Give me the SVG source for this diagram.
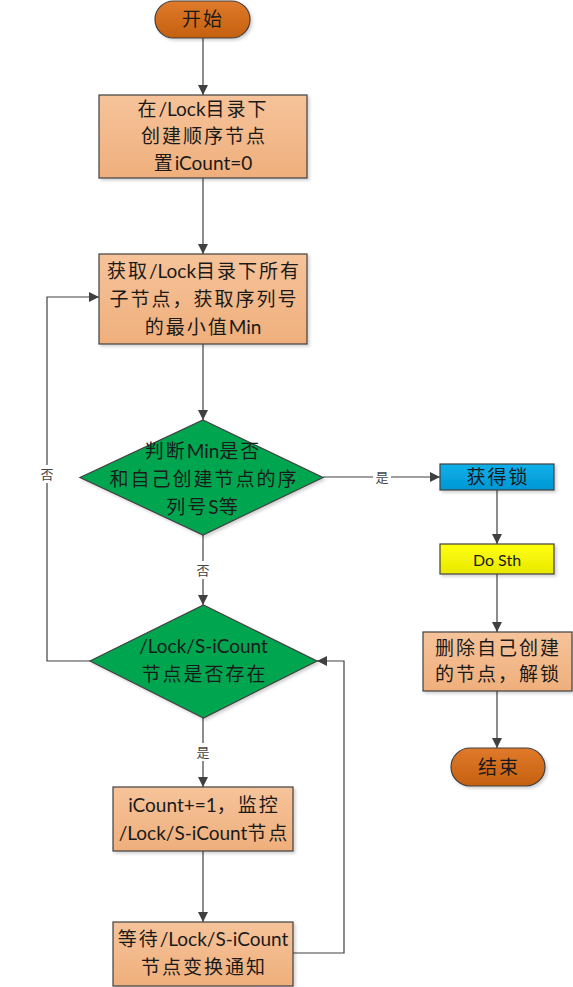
<svg xmlns="http://www.w3.org/2000/svg" width="573" height="987" viewBox="0 0 573 987">
<defs>
<linearGradient id="gOrange" x1="0" y1="0" x2="0" y2="1"><stop offset="0" stop-color="#e07a2c"/><stop offset="1" stop-color="#c5600f"/></linearGradient>
<linearGradient id="gPeach" x1="0" y1="0" x2="0" y2="1"><stop offset="0" stop-color="#f6c39a"/><stop offset="1" stop-color="#efaf7c"/></linearGradient>
<linearGradient id="gBlue" x1="0" y1="0" x2="0" y2="1"><stop offset="0" stop-color="#10b0ea"/><stop offset="1" stop-color="#0097d4"/></linearGradient>
<linearGradient id="gYellow" x1="0" y1="0" x2="0" y2="1"><stop offset="0" stop-color="#ffff10"/><stop offset="1" stop-color="#e8e800"/></linearGradient>
<marker id="arr" viewBox="0 0 10 10" refX="10" refY="5" markerWidth="10" markerHeight="10" markerUnits="userSpaceOnUse" orient="auto"><path d="M0,0 L10,5 L0,10 z" fill="#404040"/></marker>
<filter id="sh" x="-10%" y="-10%" width="130%" height="130%"><feDropShadow dx="2" dy="2" stdDeviation="1.5" flood-color="#000" flood-opacity="0.18"/></filter>
</defs>
<style>
.t{font-family:Lato,"Noto Sans CJK SC",sans-serif;font-size:19px;fill:#1a1a1a;text-anchor:middle}
.c{letter-spacing:2px}
.lbl{font-family:"Noto Sans CJK SC",sans-serif;font-size:13px;fill:#444;text-anchor:middle}
.box{stroke:#404040;stroke-width:1.2;filter:url(#sh)}
.ln{fill:none;stroke:#404040;stroke-width:1.2}
</style>
<g id="connectors">
<path class="ln" d="M203,38 V95" marker-end="url(#arr)"/>
<path class="ln" d="M203,178 V254" marker-end="url(#arr)"/>
<path class="ln" d="M203,344 V420" marker-end="url(#arr)"/>
<path class="ln" d="M323,477 H440" marker-end="url(#arr)"/>
<path class="ln" d="M497,490 V544" marker-end="url(#arr)"/>
<path class="ln" d="M497,574 V632" marker-end="url(#arr)"/>
<path class="ln" d="M497,691 V748" marker-end="url(#arr)"/>
<path class="ln" d="M203,535 V605" marker-end="url(#arr)"/>
<path class="ln" d="M203,718 V787" marker-end="url(#arr)"/>
<path class="ln" d="M203,851 V922" marker-end="url(#arr)"/>
<path class="ln" d="M292,953 H344 V661 H317" marker-end="url(#arr)"/>
<path class="ln" d="M90,661 H47 V297 H99" marker-end="url(#arr)"/>
<rect x="373" y="469" width="18" height="16" fill="#fff"/>
<text class="lbl" x="382" y="482">是</text>
<rect x="39" y="465" width="16" height="18" fill="#fff"/>
<text class="lbl" x="47" y="479">否</text>
<rect x="194" y="561" width="18" height="18" fill="#fff"/>
<text class="lbl" x="203" y="575">否</text>
<rect x="194" y="743" width="18" height="18" fill="#fff"/>
<text class="lbl" x="203" y="757">是</text>
</g>
<g id="start"><rect class="box" x="155" y="1" width="95" height="37" rx="18.5" fill="url(#gOrange)"/><text class="t" x="203" y="26"><tspan class="c">开始</tspan></text></g>
<g id="create"><rect class="box" x="99" y="95" width="208" height="83" fill="url(#gPeach)"/>
<text class="t" x="203" y="116"><tspan class="c">在</tspan>/Lock<tspan class="c">目录下</tspan></text>
<text class="t" x="204" y="143"><tspan class="c">创建顺序节点</tspan></text>
<text class="t" x="203" y="170"><tspan class="c">置</tspan>iCount=0</text></g>
<g id="getchildren"><rect class="box" x="99" y="254" width="208" height="90" fill="url(#gPeach)"/>
<text class="t" x="204" y="278"><tspan class="c">获取</tspan>/Lock<tspan class="c">目录下所有</tspan></text>
<text class="t" x="204" y="306"><tspan class="c">子节点，获取序列号</tspan></text>
<text class="t" x="203" y="334"><tspan class="c">的最小值</tspan>Min</text></g>
<g id="decide1"><polygon class="box" points="203,420 323,477.5 203,535 80,477.5" fill="#00a650"/>
<text class="t" x="203" y="458"><tspan class="c">判断</tspan>Min<tspan class="c">是否</tspan></text>
<text class="t" x="204" y="486"><tspan class="c">和自己创建节点的序</tspan></text>
<text class="t" x="203" y="514"><tspan class="c">列号</tspan>S<tspan class="c">等</tspan></text></g>
<g id="getlock"><rect class="box" x="440" y="464" width="114" height="26" fill="url(#gBlue)"/><text class="t" x="498" y="484"><tspan class="c">获得锁</tspan></text></g>
<g id="dosth"><rect class="box" x="440" y="544" width="114" height="30" fill="url(#gYellow)"/><text class="t" x="497" y="566" style="font-size:16px">Do Sth</text></g>
<g id="delete"><rect class="box" x="423" y="632" width="149" height="59" fill="url(#gPeach)"/>
<text class="t" x="498" y="655"><tspan class="c">删除自己创建</tspan></text>
<text class="t" x="498" y="681"><tspan class="c">的节点，解锁</tspan></text></g>
<g id="end"><rect class="box" x="451" y="748" width="94" height="38" rx="19" fill="url(#gOrange)"/><text class="t" x="499" y="774"><tspan class="c">结束</tspan></text></g>
<g id="decide2"><polygon class="box" points="203.5,605 317,661 203.5,718 90,661" fill="#00a650"/>
<text class="t" x="203.5" y="653">/Lock/S-iCount</text>
<text class="t" x="204.5" y="681"><tspan class="c">节点是否存在</tspan></text></g>
<g id="watch"><rect class="box" x="113" y="787" width="180" height="64" fill="url(#gPeach)"/>
<text class="t" x="204" y="812">iCount+=1<tspan class="c">，监控</tspan></text>
<text class="t" x="204" y="840">/Lock/S-iCount<tspan class="c">节点</tspan></text></g>
<g id="wait"><rect class="box" x="113" y="922" width="180" height="64" fill="url(#gPeach)"/>
<text class="t" x="203" y="946"><tspan class="c">等待</tspan>/Lock/S-iCount</text>
<text class="t" x="204" y="974"><tspan class="c">节点变换通知</tspan></text></g>
</svg>
